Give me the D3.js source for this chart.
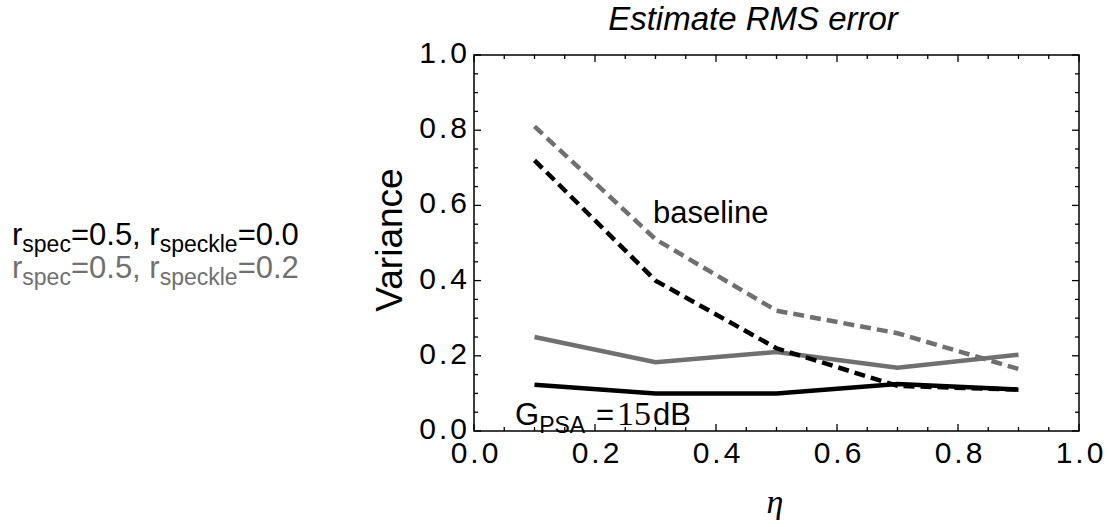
<!DOCTYPE html>
<html>
<head>
    <title>Estimate RMS error</title>
    <script src="https://d3js.org/d3.v7.min.js"></script>
    <style>
        body { margin: 0; background: #fff; }
        text { font-family: "Liberation Sans", Arial, sans-serif; }
        .tick-label { font-size: 30px; letter-spacing: 3px; }
    </style>
</head>
<body>
    <svg width="1109" height="527"></svg>
    <script>
        // data
        var eta = [0.1, 0.3, 0.5, 0.7, 0.9];
        var baselineSpeckle0 = [0.72, 0.40, 0.22, 0.12, 0.11];   // black dashed
        var baselineSpeckle2 = [0.81, 0.51, 0.32, 0.26, 0.165];  // gray dashed
        var psaSpeckle0 = [0.123, 0.10, 0.10, 0.125, 0.11];      // black solid
        var psaSpeckle2 = [0.25, 0.183, 0.21, 0.168, 0.203];     // gray solid
        var xTicks = [0, 0.2, 0.4, 0.6, 0.8, 1.0];
        var yTicks = [0, 0.2, 0.4, 0.6, 0.8, 1.0];
        var minorTicks = d3.range(0, 1.0001, 0.05);

        var gray = "#707070";
        var series = [
            {values: psaSpeckle0, color: "#000", dash: null},
            {values: psaSpeckle2, color: gray, dash: null},
            {values: baselineSpeckle0, color: "#000", dash: "11,6"},
            {values: baselineSpeckle2, color: gray, dash: "11,6"}
        ];

        var svg = d3.select("svg"),
            margin = {top: 55, right: 30, bottom: 96, left: 474},
            width = 1079 - margin.left,
            height = 431 - margin.top;

        var x = d3.scaleLinear().domain([0, 1]).range([0, width]);
        var y = d3.scaleLinear().domain([0, 1]).range([height, 0]);

        var g = svg.append("g").attr("transform", "translate(" + margin.left + "," + margin.top + ")");

        // lines
        var line = d3.line().x((d, i) => x(eta[i])).y(d => y(d));
        g.selectAll(".series")
            .data(series)
            .enter().append("path")
            .attr("class", "series")
            .attr("d", d => line(d.values))
            .attr("fill", "none")
            .attr("stroke", d => d.color)
            .attr("stroke-width", 4.5)
            .attr("stroke-dasharray", d => d.dash);

        // frame
        g.append("rect")
            .attr("width", width)
            .attr("height", height)
            .attr("fill", "none")
            .attr("stroke", "#000")
            .attr("stroke-width", 1.5);

        // inward ticks on all four sides, longer at multiples of 0.2
        function tickLen(v) { return Math.abs(v * 5 - Math.round(v * 5)) < 1e-6 ? 7 : 4; }
        var ticks = g.append("g").attr("stroke", "#000").attr("stroke-width", 1.3);
        minorTicks.forEach(function(v) {
            var L = tickLen(v);
            ticks.append("line").attr("x1", x(v)).attr("x2", x(v)).attr("y1", height).attr("y2", height - L);
            ticks.append("line").attr("x1", x(v)).attr("x2", x(v)).attr("y1", 0).attr("y2", L);
            ticks.append("line").attr("y1", y(v)).attr("y2", y(v)).attr("x1", 0).attr("x2", L);
            ticks.append("line").attr("y1", y(v)).attr("y2", y(v)).attr("x1", width).attr("x2", width - L);
        });

        // tick labels
        g.selectAll(".xlab")
            .data(xTicks)
            .enter().append("text")
            .attr("class", "tick-label")
            .attr("x", d => x(d) + 2)
            .attr("y", height + 32)
            .attr("text-anchor", "middle")
            .text(d => d.toFixed(1));

        g.selectAll(".ylab")
            .data(yTicks)
            .enter().append("text")
            .attr("class", "tick-label")
            .attr("x", -4)
            .attr("y", d => y(d) + 8)
            .attr("text-anchor", "end")
            .text(d => d.toFixed(1));

        // title and axis labels
        svg.append("text")
            .attr("x", 753)
            .attr("y", 30)
            .attr("text-anchor", "middle")
            .style("font-size", "33px")
            .style("font-style", "italic")
            .text("Estimate RMS error");

        svg.append("text")
            .attr("transform", "translate(402,240) rotate(-90)")
            .attr("text-anchor", "middle")
            .style("font-size", "37px")
            .text("Variance");

        svg.append("text")
            .attr("x", 775)
            .attr("y", 513)
            .attr("text-anchor", "middle")
            .style("font-family", "'Liberation Serif', 'Times New Roman', serif")
            .style("font-style", "italic")
            .style("font-size", "34px")
            .text("\u03b7");

        // annotations
        svg.append("text")
            .attr("x", 653)
            .attr("y", 223)
            .style("font-size", "31px")
            .text("baseline");

        var gp = svg.append("text").attr("x", 515).attr("y", 425).style("font-size", "31px");
        gp.append("tspan").text("G");
        gp.append("tspan").attr("dy", 8).style("font-size", "23px").text("PSA");
        gp.append("tspan").attr("x", 596).attr("dy", -8).text("=");
        gp.append("tspan").attr("x", 617)
            .style("font-family", "'Liberation Serif', 'Times New Roman', serif")
            .style("font-size", "34px").text("15");
        gp.append("tspan").attr("x", 653).text("dB");

        // legend
        var legendRows = [
            {spec: "0.5", speckle: "0.0", color: "#000"},
            {spec: "0.5", speckle: "0.2", color: gray}
        ];
        legendRows.forEach(function(r, i) {
            var t = svg.append("text")
                .attr("x", 12)
                .attr("y", 245 + i * 33)
                .attr("fill", r.color)
                .style("font-size", "31px");
            t.append("tspan").text("r");
            t.append("tspan").attr("dy", 7).style("font-size", "23px").text("spec");
            t.append("tspan").attr("dy", -7).text("=" + r.spec + ", r");
            t.append("tspan").attr("dy", 7).style("font-size", "23px").text("speckle");
            t.append("tspan").attr("dy", -7).text("=" + r.speckle);
        });
    </script>
</body>
</html>
